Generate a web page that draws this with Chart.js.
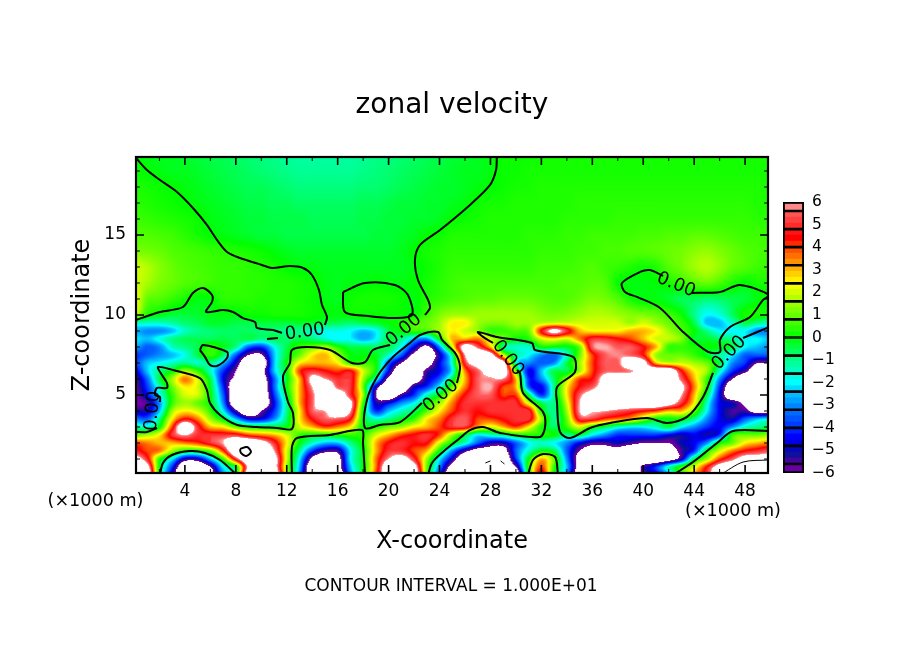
<!DOCTYPE html>
<html><head><meta charset="utf-8">
<style>html,body{margin:0;padding:0;background:#fff;width:904px;height:654px;overflow:hidden}canvas{display:block}#bar{position:absolute;left:760px;top:190px}#main{position:absolute;left:0;top:0}</style>
<script src="https://cdn.jsdelivr.net/npm/chart.js@4"></script></head><body>
<canvas id="main" width="904" height="654"></canvas>
<canvas id="bar" width="100" height="300"></canvas>
<script>
const xNodes=[0,1,2,3,4,5,6,7,8,9,10,11,12,13,14,15,16,17,18,19,20,21,22,23,24,25,26,27,28,29,30,31,32,33,34,35,36,37,38,39,40,41,42,43,44,45,46,47,48,49,50];
const zNodes=[0,0.5,1,1.5,2,2.5,3,3.5,4,4.5,5,5.5,6,6.5,7,7.5,8,8.5,9,9.5,10,11,12,13,14,15,16,17,18,19,20];
const u00=[8,8,0,-5,-8,-8,-7,-3,0,8, 8,8,2,-3,-8,-8,-8,-3,0,4, 8,8,8,1,-4,-8,-8,-8,-8,-8, -8,0,5,0,-3,-8,-8,-8,-8,-8, -6,-5,-3,0,3,5,8,8,8,8, 8];
const u05=[8,7,0,-4,-8,-8,-6,-2,0,6.5, 8,7,1.5,-2.5,-8,-8,-7,-2.5,0,3.5, 8,8,7,1,-3,-7,-8,-8,-8,-8, -6,0.5,4,0.5,-2.5,-7,-8,-8,-8,-8, -5.5,-4,-1.5,0.5,2,4.5,7,8,8,8, 8];
const u10=[7,5,0.5,-2,-5,-5,-2.5,0.5,5,8, 8,7,2,-2,-6.5,-8,-7,-2,0,3.5, 6,7,5,1.5,-2,-5,-8,-8,-8,-8, -4,0,3,1,-3,-7,-8,-8,-8,-8, -8,-8,-7,-5,-0.5,1.5,4,5.5,7,7, 7];
const u15=[5,4,3.5,1.5,0,0,1,4,8,8, 8,6,2,-1,-4,-5.5,-5.5,-2,0,3, 5,5,4,3,0,-3,-5.5,-7,-7,-7, -3.5,-1.5,0,-0.5,-3.5,-6,-7,-7,-7,-8, -8,-8,-7,-5.5,-4,0,2,3.5,4.5,5, 5.5];
const u20=[4,3.5,3,3,3.5,4,5,6,8,8, 7,5,2.5,0,-1.5,-2.5,-2.5,-1,0.3,3, 4.5,5,4.5,4.5,2,0,-1.5,-3.5,-5,-5, -3.5,-2,-1.5,-2,-3,-4.5,-5.5,-5.5,-5,-5.5, -6,-6,-6,-5,-4.5,-3,0,1,2.5,3, 3.5];
const u25=[1,1.5,2.5,5,6,5,5,5,5,4, 3.5,3,2,0.5,0,0,0.3,0.5,0.5,2, 3,4,4.5,5,4,1.5,-0.3,-2,-1.5,-1, 0,0.2,0.3,0,-1,-0.5,-2,-3,-4,-4, -4,-4,-4.5,-5,-4.5,-5,-4,0.5,1,1, 1.5];
const u30=[-1,-1.5,0,4,8,5,3,2.5,1,0, 0,-0.1,0,2,3,4,3.5,2.5,0,0.3, 1,1.5,2.5,3,4,5,5,3,2,3, 4,2.5,0.3,-0.7,0.5,2,0.3,-0.5,-1.5,-2, -2,-1.5,-0.5,-2,-3,-4,-4.5,-3,-1.5,-1, -0.5];
const u35=[-3,-3.5,-1,2.5,4.5,3.5,1.5,-0.1,-2.5,-4.5, -4.5,-3,-0.7,2.5,4.5,5.5,5.5,4.5,0,-1.5, -1,-0.2,0.5,2.5,3.5,5,5.5,4,4,4.5, 5,5,1.5,-1,1,5,5,4,3.5,3, 1.5,0,0,0,-1,-3,-4.5,-5,-3.5,-2.5, -2];
const u40=[-5,-5,-2.5,1.5,2.5,2,0.5,-2,-5.5,-8, -6,-4,-1,2.5,5.5,6,8,6,0,-4, -2.5,-1.5,-0.7,0.8,2.5,4,5,4.5,5,5, 5,5,0.3,-1,1.5,6,6.2,6,5.5,5, 4.5,4,3,3,1,-2,-4.5,-5.5,-5.5,-7, -7];
const u45=[-6,-5.5,-3,0.5,1.5,1,0,-3,-8,-8, -8,-4.5,-1,3,5.5,8,8,6.5,0.5,-5, -4.5,-3,-2,0,1.5,3.5,5,5,5,5, 5,2,-0.5,-1,2,6,8,8,8,8, 8,8,7,5,2.5,-1.5,-4.5,-5,-6.5,-8, -8];
const u50=[-6,-4.5,-2,0.5,2,2,0,-3.5,-8,-8, -8,-4,-0.5,3,5.5,8,7.5,5,1.5,-6, -8,-5.5,-4,-1.5,0,2.5,4.5,5.5,5.5,4, 4,-0.5,-4,-1,2.5,5.5,7,8,8,8, 8,8,8,6,3,-0.5,-4.5,-8,-8,-8, -8];
const u55=[-6,-4,-1.5,1,2.5,2,-0.2,-4,-8,-8, -8,-3.5,0,3,6,8,5.5,5,1,-5, -8,-8,-5,-4,-1.8,1,3.5,5.5,6,4, 3,-3.5,-4.5,-1,2.5,4.5,5.5,7,8,8, 8,8,8,6.5,3.5,0.3,-4,-8,-8,-8, -8];
const u60=[-5.8,-3.5,-0.5,1.5,3.5,2,-0.5,-4.5,-6.5,-8, -7.5,-3.5,-0.2,3,6.5,6,5,5,1.5,-1.5, -6.5,-8,-7.5,-5,-3.5,-0.5,3,5.5,5.8,5.8, 3,-4,-3,-0.7,1.5,4,4.5,7,8,8, 8,8,8,5.5,3,0.5,-3,-6,-8,-8, -8];
const u65=[-5,-2.5,-1,0,1.5,0.5,-1.5,-4,-6,-8, -7,-2.5,0,4,5,4.5,4,4.5,2,0, -4.5,-8,-8,-5.5,-4.5,-2,3.5,5.5,7,8, 1,-4.5,-2.5,-0.5,-0.5,1.5,4,5.5,5.5,5.8, 7,8,8,4.5,2.5,1.5,-1.5,-4,-5.5,-8, -8];
const u70=[-4,-2.5,-2,-1.5,-1,-1.5,-1,-2.5,-5,-8, -8,-2.5,0,2.5,3,3,2.5,0.5,0.5,0, -3.5,-6,-8,-7,-4.5,-1.5,5,7,8,7, -1.5,-3,-3.5,-3,-0.5,1.5,4,5.5,5.5,8, 7,3,2,2,1.5,1,-0.5,-3,-4,-6, -6];
const u75=[-4,-3.5,-3,-2.5,-1.8,-0.5,0.5,-0.7,-3.5,-6, -6.2,-2.5,-0.3,1,2.5,3,1.5,0,-0.1,-0.2, -1.5,-3.5,-6.5,-7.5,-5,-1,6,8,7,2, -1,-2,-3,-3.5,-1.5,1,4,5.5,5.8,5.5, 4.5,1.5,1,1,0.5,-0.2,-1.2,-2,-3.5,-3.5, -3.5];
const u80=[-2.5,-3.5,-3,-1.5,-1,-0.5,0.5,-0.2,-1,-3.5, -4,-2,-0.5,0.5,1,1.5,0.3,-0.5,-0.5,-0.7, -0.5,-2,-4.5,-6.5,-3,2,7,5.5,3,-1, -1.5,-1.5,0,-0.1,-0.2,1,5.5,6,5.5,5.5, 4.5,3,0.5,0.5,0.2,0,-0.1,-0.5,-2,-2.5, -3];
const u85=[-2,-2.5,-1.8,-1,-0.6,-0.6,-0.6,-0.5,-0.7,-0.5, -1,-0.5,-0.8,-0.5,-0.8,-1.5,-2,-2,-2.7,-2, -0.5,-1,-2.5,-3,0,3,3,3.5,2,1, 0,0.3,2,2.5,2,3.5,5,5,4.5,4, 3,2,1.8,1.2,-0.3,-0.3,-0.7,-1,-2,-2, -2.5];
const u90=[-2.5,-3,-3,-2.5,-1.5,-1,-0.8,-0.7,-0.7,-0.7, -0.8,-0.8,-1,-1,-1.5,-1.8,-1.8,-2,-2.5,-2, -0.5,0,0.5,0.5,1.5,2.5,2,1.5,0.5,0.5, 0.8,1,4.5,6.5,5,3,2.5,2.5,2.5,3, 3,2.5,1.5,0.8,0,-1,-2,-2,-2,-3, -3];
const u95=[-1.5,-1.5,-1.5,-1.2,-0.8,-0.6,-0.3,-0.3,-0.5,-0.5, -0.4,-0.4,-0.4,-0.3,-0.3,-0.5,-0.6,-0.8,-0.5,-0.3, 0,0.2,0.7,1,1.5,2.5,2.5,1.5,1.2,1.2, 1.5,1.5,1.8,2,2,2,2,2,2,1.5, 2,1.5,1,0.5,-0.5,-2.5,-2.5,-1.5,-0.5,-1, -1.5];
const u100=[2,0.3,-0.1,-0.4,-0.4,-0.3,-0.2,-0.1,-0.1,0.1, 0.1,0.2,0.2,0.2,0.1,0,-0.1,0.05,0.05,0.05, 0.05,0.05,0,0.6,1.2,1.5,1.5,1.5,1.5,1.5, 1.5,1.5,1.3,1.2,1.3,1.5,1.7,1.7,1.5,1.3, 1.2,1,0.6,0.1,-1,-2,-1.7,-0.7,0.2,0.2, 0];
const u110=[2.5,1,0.8,0.5,0.2,-0.1,0,0.4,0.4,0.4, 0.3,0.3,0.3,0.2,0.1,-0.1,-0.2,0.1,0.2,0.2, 0.2,0.1,-0.1,0.3,0.5,0.7,0.8,0.9,0.9,1, 1,1,0.9,0.8,0.8,1,1.2,1.1,0.8,0.2, -0.1,-0.1,-0.3,-0.6,-0.6,-0.8,-0.7,-0.5,-0.4,-0.1, 0];
const u120=[2,1.6,1.2,1,0.8,0.7,0.6,0.5,0.5,0.4, 0.4,0.3,0.3,0.2,0.1,-0.1,-0.2,-0.1,-0.1,0, -0.1,-0.1,0,0.2,0.4,0.6,0.7,0.7,0.7,0.7, 0.7,0.7,0.7,0.7,0.8,0.8,0.9,0.8,0.1,-0.1, -0.1,0,0.2,0.5,0.8,1,0.7,0.3,0,0.2, 0.3];
const u130=[2,1.7,1.3,1,0.8,0.7,0.6,0.5,0.5,0.4, 0.3,0.2,0,-0.1,-0.1,-0.2,-0.2,-0.2,-0.2,-0.2, -0.2,-0.2,-0.1,0.1,0.3,0.5,0.5,0.5,0.5,0.5, 0.5,0.5,0.6,0.6,0.6,0.7,0.8,0.6,0.5,0.3, 0.15,0.3,0.8,1.1,1.5,1.7,1.4,1,0.8,0.6, 0.5];
const u140=[1.2,1.1,1,0.8,0.7,0.6,0.5,0.4,0.3,0.2, 0.1,-0.1,-0.2,-0.3,-0.3,-0.3,-0.3,-0.3,-0.3,-0.3, -0.3,-0.2,0,0.2,0.3,0.4,0.4,0.4,0.4,0.4, 0.4,0.4,0.5,0.5,0.5,0.6,0.6,0.7,0.7,0.8, 0.8,0.9,1,1.1,1.3,1.4,1.2,1,0.8,0.7, 0.6];
const u150=[0.8,0.8,0.7,0.6,0.4,0.2,0,-0.1,-0.2,-0.3, -0.4,-0.4,-0.5,-0.5,-0.5,-0.5,-0.5,-0.5,-0.5,-0.4, -0.4,-0.3,-0.2,0,0.1,0.3,0.3,0.3,0.3,0.3, 0.3,0.4,0.4,0.4,0.5,0.5,0.6,0.6,0.6,0.6, 0.7,0.7,0.8,0.8,0.9,0.9,0.8,0.7,0.6,0.6, 0.5];
const u160=[0.6,0.5,0.4,0.3,0.2,0.1,-0.1,-0.2,-0.3,-0.4, -0.4,-0.5,-0.5,-0.5,-0.6,-0.6,-0.6,-0.6,-0.5,-0.5, -0.4,-0.4,-0.3,-0.3,-0.2,0,0.1,0.2,0.3,0.3, 0.3,0.3,0.3,0.3,0.4,0.4,0.4,0.4,0.5,0.5, 0.5,0.5,0.5,0.5,0.5,0.5,0.5,0.5,0.5,0.4, 0.4];
const u170=[0.4,0.3,0.2,0.1,0,-0.1,-0.2,-0.3,-0.4,-0.5, -0.5,-0.6,-0.6,-0.7,-0.7,-0.7,-0.7,-0.7,-0.6,-0.6, -0.5,-0.4,-0.4,-0.3,-0.3,-0.2,-0.1,0.1,0.2,0.2, 0.3,0.3,0.3,0.3,0.3,0.4,0.4,0.4,0.4,0.4, 0.4,0.4,0.4,0.4,0.4,0.4,0.4,0.4,0.4,0.3, 0.3];
const u180=[0.3,0.2,0.1,0,-0.1,-0.2,-0.3,-0.4,-0.5,-0.6, -0.6,-0.7,-0.8,-0.9,-0.9,-0.9,-0.9,-0.9,-0.8,-0.8, -0.7,-0.6,-0.5,-0.4,-0.3,-0.3,-0.2,-0.1,0,0.1, 0.2,0.2,0.3,0.3,0.3,0.3,0.3,0.3,0.3,0.3, 0.3,0.3,0.3,0.3,0.3,0.3,0.3,0.3,0.3,0.3, 0.2];
const u190=[0.1,0,-0.1,-0.2,-0.2,-0.3,-0.4,-0.5,-0.6,-0.7, -0.8,-0.9,-1,-1.1,-1.1,-1.1,-1.1,-1.1,-1,-0.9, -0.8,-0.7,-0.6,-0.5,-0.4,-0.3,-0.2,-0.2,-0.1,0.1, 0.1,0.2,0.2,0.2,0.2,0.2,0.2,0.2,0.2,0.2, 0.2,0.2,0.2,0.2,0.2,0.2,0.2,0.2,0.2,0.2, 0.2];
const u200=[0,-0.1,-0.2,-0.2,-0.3,-0.4,-0.5,-0.6,-0.7,-0.8, -0.9,-1,-1.1,-1.2,-1.2,-1.2,-1.2,-1.2,-1.1,-1, -0.9,-0.8,-0.7,-0.6,-0.5,-0.4,-0.3,-0.2,-0.1,0.1, 0.1,0.1,0.2,0.2,0.2,0.2,0.2,0.2,0.2,0.2, 0.2,0.2,0.2,0.2,0.2,0.2,0.2,0.2,0.2,0.2, 0.2];
const fieldRows=[u00,u05,u10,u15,u20,u25,u30,u35,u40,u45,u50,u55,u60,u65,u70,u75,u80,u85,u90,u95,u100,u110,u120,u130,u140,u150,u160,u170,u180,u190,u200];

const c1=[[0.16,19.81],[1.02,19.06],[2.04,18.44],[3.38,17.69],[4.63,16.69],[5.73,15.63],[6.52,14.69],[7.31,13.94],[8.33,13.56],[10.05,13.13],[10.84,12.94],[12.25,13.06],[13.28,12.94],[13.98,12.5],[14.53,11.56],[14.77,10.63],[15.16,9.88],[15,9.38]];
const c2=[[0.16,9.69],[2.04,10.19],[3.85,10.5],[4.63,11.38],[5.42,11.69],[6.13,11.25],[6.13,10.81],[5.66,10.19],[6.99,10.31],[7.78,10.19],[8.56,9.81],[9.51,9.56],[9.66,9.19],[10.92,9.06],[11.63,8.88]];
const c2b=[[10.45,8.5],[11.31,8.56]];
const c3a=[[0.16,2.69],[1.02,2.69],[1.81,2.94]];
const c3=[[2.04,4.56],[2.04,4.88],[1.65,5],[1.81,5.44],[2.59,5.44],[2.59,5.75],[2.2,6.25],[1.89,6.75],[3.06,6.56],[5.18,6.06],[5.73,5.31],[5.97,4.5],[6.76,3.75],[8.09,3.13],[9.66,3],[11.23,2.94],[12.41,2.88],[12.49,3.88],[12.1,4.56],[11.7,6.13],[12.25,7],[12.41,7.81],[13.59,8],[15.4,7.81],[17.12,7],[18.15,7.06],[18.77,7.81],[20.11,8.13]];
const c4=[[28.5,19.9],[28.44,19.06],[27.97,18.13],[26.39,16.88],[24.04,15.31],[22.47,14.38],[22.07,13.44],[22.31,12.19],[23.1,10.94],[23.25,10.44],[22.86,10]];
const c5=[[16.42,11.44],[16.57,10.19],[18.38,9.94],[20.5,9.81],[21.84,10],[21.52,11.25],[20.5,11.88],[18.15,12],[16.42,11.44]];
const c6=[[5.18,7.81],[5.42,8.13],[7.31,7.69],[7.31,7.31],[6.52,6.81],[5.97,6.88],[5.58,7.38],[5.18,7.81]];
const c7=[[2.04,0],[2.28,0.75],[2.99,1.25],[4.4,1.5],[5.58,1.38],[6.76,0.94],[8.09,0]];
const c8=[[8.33,1.63],[8.88,1.75],[9.19,1.44],[8.8,1.19],[8.4,1.38],[8.33,1.63]];
const c9=[[12.41,0],[12.41,1.75],[12.8,2.31],[15.4,2.5],[17.91,2.81],[17.99,2],[18.15,0]];
const c10=[[25.37,5.75],[25.61,6.75],[25.22,7.63],[24.2,8.44],[23.88,8.94],[22.47,8.75],[21.68,8.25],[20.35,7.38],[19.09,6.13],[18.3,4.69],[18.15,2.94],[19.32,3.13],[20.9,3.31],[22.62,4.5]];
const c11=[[23.1,0],[23.41,0.75],[24.27,1.44],[25.61,2.31],[26.39,2.81],[27.42,3],[28.75,2.63],[31.89,2.38],[32.29,3],[32.13,3.94],[30.56,5.13],[30.32,6.38],[30.09,6.56]];
const c12=[[28.2,8.25],[27.42,8.63],[27.02,8.94],[28.52,8.63],[31.26,8.25],[31.5,7.81],[34.49,7.38],[34.64,6.44],[33.23,5.5],[33.23,4.5],[33.46,2.69],[34.25,2.31],[35.82,2.94],[37.39,3.25],[40.3,3.56],[41.87,3.25],[43.44,3.63],[44.7,4.88],[45.48,6.38]];
const c13=[[47.84,8.56],[49.9,9.25]];
const c14=[[41.56,12.44],[40.53,12.81],[39.75,12.69],[38.33,12],[38.57,11.44],[39.51,11.13],[41.32,10.44],[43.13,8.94],[45.09,7.69],[46.03,7.69],[46.03,8.44],[46.82,9.25],[48.39,9.88],[49.41,10.94],[49.9,11.25],[47.6,11.88],[46.03,11.44],[43.83,11.38]];
const c15=[[30.95,0],[31.34,0.94],[32.13,1.31],[33.07,1.13],[33.31,0]];
const c16=[[42.34,0],[43.91,0.81],[45.8,2],[47.06,2.75],[49.9,2.75]];
const thick=[c1,c2,c2b,c3a,c3,c4,c5,c6,c7,c8,c9,c10,c11,c12,c13,c14,c15,c16];
const thinA=[[46.03,0],[47.84,0.81],[49.9,0.94]];
const thinB=[[27.6,0.75],[28,0.88]];
const thinC=[[28.8,0.88],[29.1,0.69]];
const thin=[thinA,thinB,thinC];

const labelText="0.00";
const labelX=[13.43,21.2,24.1,29.38,42.58,46.74,1.49];
const labelZ=[8.94,9.06,4.94,7.31,11.88,7.63,4.0];
const labelAngle=[-8,-40,-40,52,22,-45,-85];

const xMajor=[4,8,12,16,20,24,28,32,36,40,44,48];
const xMinor=[2,6,10,14,18,22,26,30,34,38,42,46];
const zMajor=[5,10,15];
const zMinor=[1,2,3,4,6,7,8,9,11,12,13,14,16,17,18,19];

const paletteV=[-6,-5.6,-5.2,-4.8,-4.4,-4,-3.2,-2.4,-2,-1.6,-0.8,0,0.8,1.6,2.4,2.8,3.2,4,4.4,4.8,5.6,6];
const paletteC=["7a00a8","5a00a0","10109a","0000d0","0000ff","0030ff","0078ff","00c8ff","00ffff","00ffd0","00ff70","00ff00","50ff00","a8ff00","ffff00","ffd000","ffa000","ff4000","ff0000","ff2020","ff6060","ffb0b0"];
const barEdges=[-6,-5.6,-4.8,-4,-3.2,-2.4,-1.6,-0.8,0,0.8,1.6,2.4,3.2,4,4.8,5.6,6];

function rgbAt(v){
  if(Math.abs(v)>6) return [255,255,255];
  let i=0; while(i<paletteV.length-2 && v>paletteV[i+1]) i++;
  const t=(v-paletteV[i])/(paletteV[i+1]-paletteV[i]);
  const a=paletteC[i],b=paletteC[i+1],o=[];
  for(let k=0;k<3;k++){const p=parseInt(a.substr(k*2,2),16),q=parseInt(b.substr(k*2,2),16);o.push(Math.round(p+(q-p)*t));}
  return o;
}
const cr=(a,b,c,d,t)=>0.5*(2*b+(c-a)*t+(2*a-5*b+4*c-d)*t*t+(3*b-a-3*c+d)*t*t*t);
function fieldAt(x,z){
  const nx=xNodes.length-2; let i=0; while(i<nx && x>xNodes[i+1]) i++;
  const nz=zNodes.length-2; let j=0; while(j<nz && z>zNodes[j+1]) j++;
  const fx=Math.min(1,Math.max(0,(x-xNodes[i])/(xNodes[i+1]-xNodes[i])));
  const fz=Math.min(1,Math.max(0,(z-zNodes[j])/(zNodes[j+1]-zNodes[j])));
  const rowAt=r=>{const R=fieldRows[Math.max(0,Math.min(fieldRows.length-1,r))];
    const g=k=>R[Math.max(0,Math.min(xNodes.length-1,k))];
    return cr(g(i-1),g(i),g(i+1),g(i+2),fx);};
  const v=cr(rowAt(j-1),rowAt(j),rowAt(j+1),rowAt(j+2),fz);
  const A=fieldRows[j],B=fieldRows[j+1];
  const lo=Math.min(A[i],A[i+1],B[i],B[i+1]),hi=Math.max(A[i],A[i+1],B[i],B[i+1]);
  return Math.max(lo,Math.min(hi,v));
}
const heatPoints=[];
zNodes.forEach((z,j)=>xNodes.forEach((x,i)=>heatPoints.push({x:x,y:z,j:j})));
const spriteCache={};
function sprite(ctx){
  const idx=ctx.dataIndex;
  if(idx===undefined) return 'rect';
  if(spriteCache[idx]) return spriteCache[idx];
  const sx=ctx.chart.scales.x, sy=ctx.chart.scales.y;
  if(!sx||!sy) return 'rect';
  const pxX=Math.abs(sx.getPixelForValue(1)-sx.getPixelForValue(0));
  const pxZ=Math.abs(sy.getPixelForValue(1)-sy.getPixelForValue(0));
  if(!isFinite(pxX)||!isFinite(pxZ)||pxX<=0||pxZ<=0) return 'rect';
  const p=heatPoints[idx], j=p.j;
  const gap=Math.max(j>0?zNodes[j]-zNodes[j-1]:0, j<zNodes.length-1?zNodes[j+1]-zNodes[j]:0);
  const w=Math.ceil(pxX)+4, h=Math.ceil(gap*pxZ)+4;
  const c=document.createElement('canvas'); c.width=w; c.height=h;
  const g=c.getContext('2d'), im=g.createImageData(w,h);
  for(let b=0;b<h;b++)for(let a=0;a<w;a++){
    const v=fieldAt(p.x+(a+0.5-w/2)/pxX, p.y-(b+0.5-h/2)/pxZ);
    const col=rgbAt(v), o=(b*w+a)*4;
    im.data[o]=col[0];im.data[o+1]=col[1];im.data[o+2]=col[2];im.data[o+3]=255;
  }
  g.putImageData(im,0,0);
  spriteCache[idx]=c;
  return c;
}
const lineSet=(arr,width)=>({type:'scatter',showLine:true,data:arr.map(p=>({x:p[0],y:p[1]})),borderColor:'#000',borderWidth:width,pointRadius:0,tension:0.3,clip:0,order:1,borderJoinStyle:'round'});

const decor={id:'decor',
  afterDatasetsDraw(chart){
    const c=chart.ctx,a=chart.chartArea,sx=chart.scales.x,sy=chart.scales.y;
    c.save(); c.strokeStyle='#000'; c.fillStyle='#000';
    const tick=(list,len,wd)=>{
      c.lineWidth=wd; c.beginPath();
      list.forEach(v=>{const p=sx.getPixelForValue(v);c.moveTo(p,a.bottom);c.lineTo(p,a.bottom-len);c.moveTo(p,a.top);c.lineTo(p,a.top+len);});
      c.stroke();
    };
    const tickZ=(list,len,wd)=>{
      c.lineWidth=wd; c.beginPath();
      list.forEach(v=>{const p=sy.getPixelForValue(v);c.moveTo(a.left,p);c.lineTo(a.left+len,p);c.moveTo(a.right,p);c.lineTo(a.right-len,p);});
      c.stroke();
    };
    tick(xMajor,8,1.6);tick(xMinor,4,1);tickZ(zMajor,8,1.6);tickZ(zMinor,4,1);
    c.lineWidth=2.2; c.strokeRect(a.left,a.top,a.right-a.left,a.bottom-a.top);
    c.font='18px "DejaVu Sans"'; c.textAlign='center'; c.textBaseline='middle';
    labelX.forEach((x,i)=>{
      c.save(); c.translate(sx.getPixelForValue(x),sy.getPixelForValue(labelZ[i])); c.rotate(labelAngle[i]*Math.PI/180);
      c.fillText(labelText,0,0); c.restore();
    });
    c.restore();
  },
  afterDraw(chart){
    const c=chart.ctx; c.save(); c.fillStyle='#000'; c.textBaseline='middle'; c.textAlign='center';
    c.font='17.6px "DejaVu Sans"';
    c.fillText('(×1000 m)',95.5,501);
    c.fillText('(×1000 m)',733,511);
    c.font='17px "DejaVu Sans"';
    c.fillText('CONTOUR INTERVAL = 1.000E+01',451,587);
    c.restore();
  }};

new Chart(document.getElementById('main'),{
  type:'scatter',
  data:{datasets:[
    ...thick.map(a=>lineSet(a,2)),
    ...thin.map(a=>lineSet(a,1)),
    {label:'zonal velocity',data:heatPoints,pointStyle:sprite,pointRadius:30,pointHoverRadius:30,pointBorderWidth:0,clip:0,order:10}
  ]},
  plugins:[decor],
  options:{
    responsive:false,animation:false,devicePixelRatio:1,
    layout:{padding:0},
    events:[],
    plugins:{legend:{display:false},tooltip:{enabled:false},
      title:{display:true,text:'zonal velocity',color:'#000',font:{family:'"DejaVu Sans"',size:28,weight:'normal',lineHeight:1.2},padding:{top:88.7,bottom:34.7}}},
    scales:{
      x:{type:'linear',min:0.16,max:49.8,position:'bottom',
        afterFit(s){s.height=181;},
        grid:{display:false,drawTicks:false},border:{display:false},
        ticks:{autoSkip:false,includeBounds:false,stepSize:4,maxRotation:0,color:'#000',padding:8,font:{family:'"DejaVu Sans"',size:17}},
        title:{display:true,text:'X-coordinate',color:'#000',font:{family:'"DejaVu Sans"',size:24},padding:{bottom:97.6}}},
      y:{type:'linear',min:0.125,max:19.875,position:'left',
        afterFit(s){s.width=136;},
        grid:{display:false,drawTicks:false},border:{display:false},
        ticks:{autoSkip:false,includeBounds:false,stepSize:5,color:'#000',padding:10,font:{family:'"DejaVu Sans"',size:17}},
        title:{display:true,text:'Z-coordinate',color:'#000',font:{family:'"DejaVu Sans"',size:24},padding:{top:68.6}}},
      yPad:{type:'linear',position:'right',min:0,max:1,
        afterFit(s){s.width=136;},
        grid:{display:false,drawTicks:false},border:{display:false},
        ticks:{display:false}}
    }
  }
});

const barSets=[];
for(let b=0;b<barEdges.length-1;b++){
  const lo=barEdges[b],hi=barEdges[b+1];
  const n=(hi-lo)>0.5?3:1;
  for(let s=0;s<n;s++){
    const a=lo+(hi-lo)*s/n,e=lo+(hi-lo)*(s+1)/n,col=rgbAt((a+e)/2);
    barSets.push({data:[[a,e]],backgroundColor:`rgb(${col[0]},${col[1]},${col[2]})`,borderWidth:0,order:5});
  }
}
for(let b=0;b<barEdges.length-1;b++){
  barSets.push({data:[[barEdges[b],barEdges[b+1]]],backgroundColor:'rgba(0,0,0,0)',borderColor:'#000',borderWidth:1,borderSkipped:false,order:2});
}
barSets.push({data:[[-6,6]],backgroundColor:'rgba(0,0,0,0)',borderColor:'#000',borderWidth:1.5,borderSkipped:false,order:1});
new Chart(document.getElementById('bar'),{
  type:'bar',
  data:{labels:['u'],datasets:barSets},
  options:{
    responsive:false,animation:false,devicePixelRatio:1,events:[],
    layout:{padding:{left:23,right:0,top:12,bottom:17}},
    plugins:{legend:{display:false},tooltip:{enabled:false}},
    datasets:{bar:{grouped:false,barPercentage:1,categoryPercentage:1}},
    scales:{
      x:{display:false,stacked:false},
      y:{position:'right',min:-6,max:6,
        afterFit(s){s.width=56;s.paddingTop=0;s.paddingBottom=0;},
        grid:{display:false,drawTicks:false},border:{display:false},
        ticks:{stepSize:1,autoSkip:false,color:'#000',padding:8,crossAlign:'near',font:{family:'"DejaVu Sans"',size:15.5},callback:v=>String(v).replace('-','\u2212')}}
    }
  }
});
</script></body></html>
